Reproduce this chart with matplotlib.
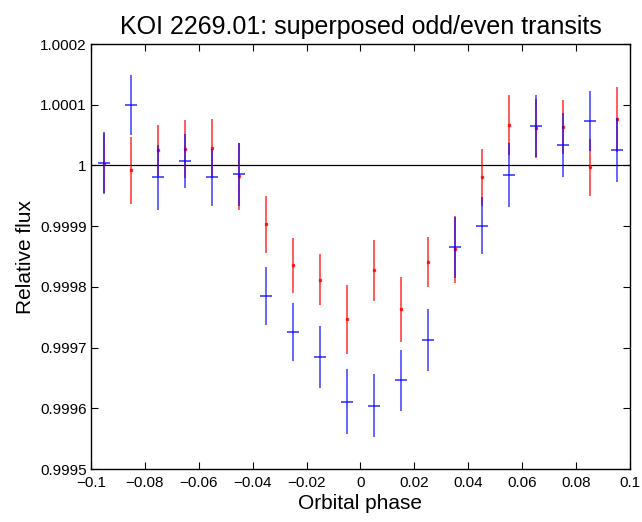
import numpy as np
import matplotlib
matplotlib.use("Agg")
import matplotlib.pyplot as plt

plt.rcParams['font.family'] = ['Liberation Sans', 'DejaVu Sans']

# Phase bin centres
phase = [-0.095, -0.085, -0.075, -0.065, -0.055, -0.045, -0.035, -0.025, -0.015, -0.005,
         0.005, 0.015, 0.025, 0.035, 0.045, 0.055, 0.065, 0.075, 0.085, 0.095]

# Odd transits (red)
odd_flux = [1.0000030, 0.9999918, 1.0000252, 1.0000268, 1.0000280, 0.9999824, 0.9999028,
            0.9998353, 0.9998116, 0.9997468, 0.9998270, 0.9997628, 0.9998412, 0.9998620,
            0.9999807, 1.0000664, 1.0000610, 1.0000636, 0.9999972, 1.0000758]
odd_err = [0.50e-4, 0.55e-4, 0.42e-4, 0.48e-4, 0.49e-4, 0.55e-4, 0.47e-4,
           0.45e-4, 0.42e-4, 0.57e-4, 0.50e-4, 0.53e-4, 0.41e-4, 0.55e-4,
           0.47e-4, 0.49e-4, 0.48e-4, 0.44e-4, 0.47e-4, 0.53e-4]

# Even transits (blue)
even_flux = [1.0000043, 1.0000993, 0.9999802, 1.0000076, 0.9999807, 0.9999857, 0.9997852,
             0.9997259, 0.9996847, 0.9996112, 0.9996040, 0.9996463, 0.9997122, 0.9998654,
             0.9999005, 0.9999846, 1.0000647, 1.0000334, 1.0000735, 1.0000252]
even_err = [0.50e-4, 0.49e-4, 0.54e-4, 0.45e-4, 0.47e-4, 0.52e-4, 0.48e-4,
            0.48e-4, 0.51e-4, 0.53e-4, 0.52e-4, 0.50e-4, 0.51e-4, 0.50e-4,
            0.47e-4, 0.53e-4, 0.51e-4, 0.53e-4, 0.49e-4, 0.53e-4]

xticks = [-0.1, -0.08, -0.06, -0.04, -0.02, 0, 0.02, 0.04, 0.06, 0.08, 0.1]
xticklabels = ['\u22120.1', '\u22120.08', '\u22120.06', '\u22120.04', '\u22120.02', '0',
               '0.02', '0.04', '0.06', '0.08', '0.1']
yticks = [0.9995, 0.9996, 0.9997, 0.9998, 0.9999, 1.0, 1.0001, 1.0002]
yticklabels = ['0.9995', '0.9996', '0.9997', '0.9998', '0.9999', '1', '1.0001', '1.0002']

fig = plt.figure(figsize=(6.42, 5.22), dpi=100)
ax = fig.add_axes([0.1417, 0.1015, 0.8396, 0.8142])

ax.axhline(1.0, color='black', linewidth=0.9, zorder=1)

ax.errorbar(phase, odd_flux, yerr=odd_err, fmt='s', color='red', ecolor='red',
            markersize=2, elinewidth=1.2, capsize=0, alpha=0.75, zorder=3)
ax.errorbar(phase, even_flux, yerr=even_err, fmt='_', color='blue', ecolor='blue',
            markersize=9, markeredgewidth=1.3, elinewidth=1.2, capsize=0, alpha=0.7,
            zorder=4)

ax.set_xlim(-0.1, 0.1)
ax.set_ylim(0.9995, 1.0002)
ax.set_xticks(xticks)
ax.set_xticklabels(xticklabels)
ax.set_yticks(yticks)
ax.set_yticklabels(yticklabels)
ax.tick_params(direction='in', top=True, right=True, length=5, width=0.8,
               labelsize=11)
ax.tick_params(axis='x', pad=5)
ax.tick_params(axis='y', pad=3)
for sp in ax.spines.values():
    sp.set_linewidth(1.0)

ax.set_xlabel('Orbital phase', fontsize=15, labelpad=3)
ax.set_ylabel('Relative flux', fontsize=15, labelpad=4)
ax.set_title('KOI 2269.01: superposed odd/even transits', fontsize=18, pad=7)

fig.savefig('out.png', dpi=100)
